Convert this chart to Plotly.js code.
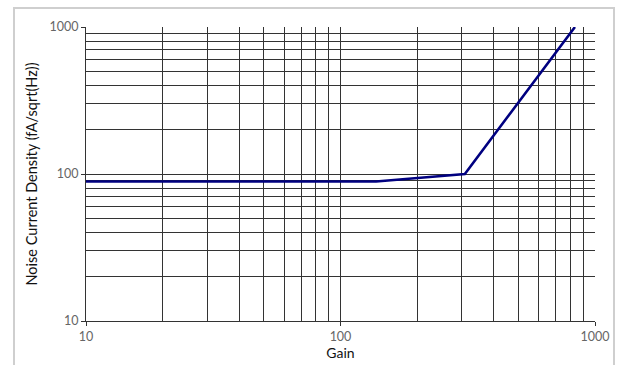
<!DOCTYPE html>
<html>
<head>
<meta charset="utf-8">
<script src="https://cdn.plot.ly/plotly-3.0.1.min.js"></script>
<style>
html,body{margin:0;padding:0;background:#fff;}
#wrap{position:relative;width:624px;height:365px;overflow:hidden;}
#frame{position:absolute;left:13px;top:7px;width:602px;height:370px;border:2px solid #cfcfcf;box-sizing:border-box;}
#chart{position:absolute;left:0;top:0;width:624px;height:365px;}
</style>
</head>
<body>
<div id="wrap"><div id="frame"></div><div id="chart"></div></div>
<script>
const gain = [10, 20, 50, 100, 138, 308, 834];
const noiseDensity = [89, 89, 89, 89, 89, 100, 1000];
const xTickVals = [10, 100, 1000];
const xTickText = ['10', '100', '1000'];
const yTickVals = [10, 100, 1000];
const yTickText = ['10', '100', '1000'];

const trace = {
  x: gain, y: noiseDensity, type: 'scatter', mode: 'lines',
  line: {color: '#000080', width: 2.6}, showlegend: false, hoverinfo: 'none'
};
const axisCommon = {
  type: 'log', showgrid: true, gridcolor: '#333', gridwidth: 1,
  minor: {showgrid: true, gridcolor: '#333', gridwidth: 1, dtick: 'D1', ticks: ''},
  showline: true, linecolor: '#333', linewidth: 1, zeroline: false,
  ticks: 'outside', ticklen: 4, tickcolor: '#333',
  tickfont: {family: 'Lato, sans-serif', size: 12.5, color: '#666'}, mirror: false
};
const layout = {
  width: 624, height: 365,
  margin: {l: 86, r: 29, t: 27, b: 44},
  paper_bgcolor: 'rgba(0,0,0,0)', plot_bgcolor: 'rgba(0,0,0,0)',
  xaxis: Object.assign({}, axisCommon, {
    range: [1, 3], tickvals: xTickVals, ticktext: xTickText,
    title: {text: 'Gain', font: {family: 'Lato, sans-serif', size: 14, color: '#111'}, standoff: 4}
  }),
  yaxis: Object.assign({}, axisCommon, {
    range: [1, 3], tickvals: yTickVals, ticktext: yTickText,
    title: {text: 'Noise Current Density (fA/sqrt(Hz))', font: {family: 'Lato, sans-serif', size: 14.5, color: '#111'}, standoff: 8}
  })
};
Plotly.newPlot('chart', [trace], layout, {displayModeBar: false, staticPlot: true});
</script>
</body>
</html>
